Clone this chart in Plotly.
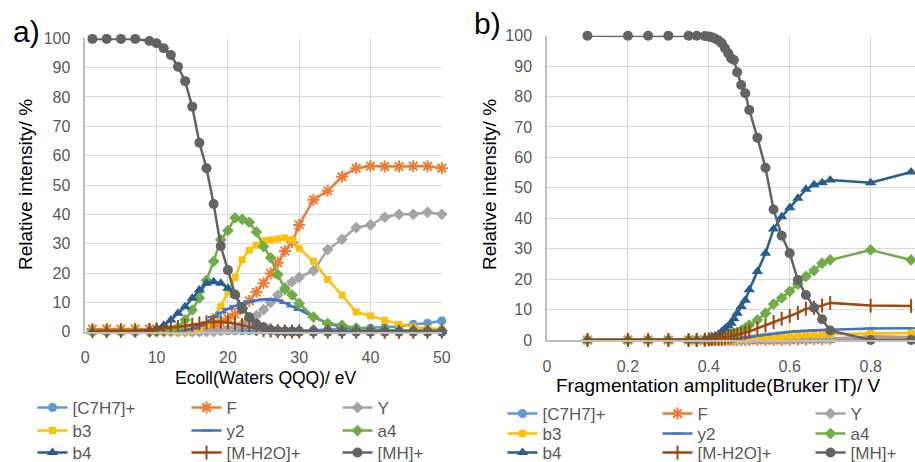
import plotly.graph_objects as go

W, H = 915, 462

names = ["[C7H7]+", "F", "Y", "b3", "y2", "a4", "b4", "[M-H2O]+", "[MH]+"]
colors = ["#5B9BD5", "#ED7D31", "#A5A5A5", "#FFC000", "#4472C4",
          "#70AD47", "#255E91", "#9E480E", "#636363"]
symbols = ["circle", "asterisk-open", "diamond", "square", "line-ew-open",
           "diamond", "triangle-up", "line-ns-open", "circle"]
msizes = [9, 10, 9, 7, 8, 9, 10, 10, 10]

# ---- panel a) : Ecoll (Waters QQQ) / eV ----
x_a = [1, 3, 5, 7, 9, 10, 11, 12, 13, 14, 15, 16, 17, 18, 19, 20, 21, 22, 23, 24,
       25, 26, 27, 28, 29, 30, 32, 34, 36, 38, 40, 42, 44, 46, 48, 50]
c7h7_a = [0, 0, 0, 0, 0, 0, 0, 0, 0, 0, 0, 0, 0.1, 0.2, 0.3, 0.3, 0.3, 0.3, 0.3, 0.3,
          0.3, 0.3, 0.3, 0.3, 0.3, 0.4, 0.6, 0.8, 1.0, 1.1, 1.2, 1.4, 1.8, 2.5, 2.9, 3.7]
f_a = [0.9, 0.9, 0.9, 0.9, 0.9, 0.8, 0.8, 0.8, 0.8, 0.8, 0.9, 1.0, 1.3, 2.0, 3.0, 4.5,
       6.0, 8.0, 10.5, 13.5, 16.5, 19.8, 23.5, 27.5, 30.5, 36.4, 45.0, 48.0, 52.8,
       55.7, 56.5, 56.3, 56.3, 56.4, 56.4, 55.7]
y_a = [0, 0, 0, 0, 0, 0, 0, 0, 0, 0, 0, 0, 0, 0, 0.3, 0.8, 1.5, 2.5, 4.0, 5.5, 7.5,
       10.0, 12.5, 15.0, 17.0, 18.5, 20.8, 28.0, 31.5, 35.5, 36.4, 39.0, 40.0, 40.0,
       40.7, 40.0]
b3_a = [0, 0, 0, 0, 0, 0, 0, 0, 0, 0, 0.3, 1.0, 2.5, 5.0, 8.5, 13.5, 18.5, 24.5, 27.8,
        29.5, 31.0, 31.3, 31.6, 32.0, 31.3, 28.4, 24.0, 17.8, 12.5, 6.7, 5.4, 3.9, 2.5,
        1.6, 1.1, 0.9]
y2_a = [0, 0, 0, 0, 0, 0, 0, 0, 0, 0.5, 1.0, 2.0, 3.2, 5.0, 6.5, 7.8, 8.8, 9.6, 10.2,
        10.7, 11.0, 11.0, 10.7, 9.8, 8.6, 7.4, 5.0, 2.8, 1.6, 1.0, 0.7, 0.5, 0.4, 0.3,
        0.3, 0.3]
a4_a = [0, 0, 0, 0, 0, 0.1, 0.3, 0.7, 1.5, 4.0, 7.4, 11.5, 17.5, 24.0, 31.3, 34.5,
        38.8, 38.3, 37.3, 34.0, 29.0, 25.2, 19.5, 14.4, 12.5, 9.6, 5.0, 2.8, 2.2, 1.2,
        0.6, 0.5, 0.4, 0.3, 0.3, 0.3]
b4_a = [0, 0, 0, 0, 0.5, 1.2, 2.2, 4.0, 6.3, 8.5, 11.4, 14.2, 16.5, 17.0, 16.5, 14.8,
        12.5, 8.5, 5.1, 3.0, 1.7, 1.0, 0.6, 0.4, 0.3, 0.2, 0.1, 0.1, 0.1, 0.1, 0.1,
        0.1, 0.1, 0.1, 0.1, 0.1]
mh2o_a = [0.2, 0.2, 0.3, 0.4, 0.6, 0.8, 1.0, 1.3, 1.6, 2.0, 2.4, 2.8, 3.2, 3.5, 3.4,
          3.2, 2.8, 2.2, 1.6, 1.0, 0.6, 0.4, 0.2, 0.1, 0.1, 0.1, 0, 0, 0, 0, 0, 0, 0,
          0, 0, 0]
mh_a = [99.8, 99.8, 99.8, 99.8, 99.1, 98.3, 96.6, 94.3, 90.3, 85.4, 76.7, 64.4, 55.7,
        43.5, 29.2, 21.0, 12.7, 7.8, 4.9, 2.6, 1.5, 0.6, 0.2, 0.1, 0, 0, 0, 0, 0, 0,
        0, 0, 0, 0, 0, 0]

# ---- panel b) : Fragmentation amplitude (Bruker IT) / V ----
x_b = [0.1, 0.2, 0.25, 0.3, 0.35, 0.37, 0.39, 0.40, 0.407, 0.415, 0.424, 0.432, 0.44,
       0.448, 0.455, 0.462, 0.47, 0.48, 0.49, 0.50, 0.52, 0.54, 0.56, 0.58, 0.60,
       0.62, 0.64, 0.66, 0.68, 0.70, 0.80, 0.90]
c7h7_b = [0] * 19 + [0.05, 0.1, 0.1, 0.15, 0.2, 0.2, 0.2, 0.25, 0.25, 0.3, 0.3, 0.4, 0.4]
f_b = [0] * 24 + [0.1, 0.2, 0.2, 0.3, 0.3, 0.4, 1.2, 1.0]
y_b = [0] * 19 + [0.1, 0.2, 0.3, 0.3, 0.4, 0.4, 0.5, 0.5, 0.5, 0.6, 0.6, 0.7, 0.7]
b3_b = [0] * 15 + [0.1, 0.15, 0.2, 0.25, 0.3, 0.5, 0.7, 0.9, 1.1, 1.3, 1.5, 1.7, 1.8,
                   1.9, 2.0, 2.2, 2.3]
y2_b = [0] * 13 + [0.1, 0.2, 0.3, 0.4, 0.6, 0.8, 1.0, 1.4, 1.8, 2.1, 2.4, 2.7, 2.9,
                   3.1, 3.2, 3.3, 3.4, 3.8, 3.9]
a4_b = [0] * 8 + [0.2, 0.4, 0.6, 0.9, 1.2, 1.5, 1.8, 2.1, 2.5, 3.2, 3.9, 4.9, 6.6, 8.8,
                  11.8, 13.8, 16.0, 18.3, 20.9, 22.8, 25.2, 26.3, 29.6, 26.3]
b4_b = [0] * 6 + [0.3, 0.5, 0.8, 1.2, 1.9, 2.8, 3.8, 4.6, 5.5, 7.0, 8.8, 11.0, 13.1,
                  16.5, 22.5, 28.5, 36.5, 40.5, 43.5, 46.6, 49.5, 51.0, 51.7, 52.6,
                  51.7, 55.2]
mh2o_b = [0] * 6 + [0.1, 0.2, 0.3, 0.4, 0.5, 0.6, 0.8, 1.0, 1.2, 1.4, 1.7, 2.0, 2.4,
                    2.8, 3.8, 4.8, 5.9, 7.0, 7.9, 8.9, 10.3, 10.6, 11.3, 12.2, 11.3, 11.2]
mh_b = [100, 100, 100, 100, 100, 100, 99.9, 99.7, 99.5, 99.1, 98.4, 97.5, 95.9, 94.2,
        92.6, 92.0, 88.0, 83.8, 81.1, 75.6, 66.5, 56.6, 42.9, 34.3, 28.5, 19.7, 14.8,
        10.6, 6.8, 3.1, 0, 0]

series_a = [c7h7_a, f_a, y_a, b3_a, y2_a, a4_a, b4_a, mh2o_a, mh_a]
series_b = [c7h7_b, f_b, y_b, b3_b, y2_b, a4_b, b4_b, mh2o_b, mh_b]

FONT = "Liberation Sans, Arial, Helvetica, sans-serif"
TICK = "#595959"

fig = go.Figure()


def legend_key(n):
    return "legend" if n == 1 else f"legend{n}"


def add_panel(xs, series, xa, ya, first_legend):
    for i, (nm, ys) in enumerate(zip(names, series)):
        sym = symbols[i]
        is_open = sym.endswith("-open")
        fig.add_trace(go.Scatter(
            x=xs, y=ys, name=nm, mode="lines+markers",
            xaxis=xa, yaxis=ya, cliponaxis=False,
            line=dict(color=colors[i], width=2.5),
            marker=dict(symbol=sym, size=msizes[i], color=colors[i],
                        line=dict(color=colors[i], width=2 if is_open else 0)),
            legend=legend_key(first_legend + i), showlegend=True,
        ))


add_panel(x_a, series_a, "x", "y", 1)
add_panel(x_b, series_b, "x2", "y2", 10)

axis_common = dict(showgrid=True, gridcolor="#D9D9D9", gridwidth=1.3,
                   showline=True, linecolor="#BFBFBF", linewidth=1.5,
                   zeroline=False, ticks="", fixedrange=True,
                   tickfont=dict(family=FONT, size=16, color=TICK))


def px_x(p):
    return p / W


def px_y(p):
    return 1 - p / H


layout = dict(
    width=W, height=H, autosize=False,
    margin=dict(l=0, r=0, t=0, b=0, autoexpand=False),
    paper_bgcolor="white", plot_bgcolor="white",
    font=dict(family=FONT, color=TICK),
    xaxis=dict(domain=[px_x(85.3), px_x(441.8)], range=[0, 50], dtick=10,
               anchor="y", ticklabelstandoff=10, **axis_common),
    yaxis=dict(domain=[px_y(331.7), px_y(38.3)], range=[0, 100], dtick=10,
               anchor="x", ticklabelstandoff=10, **axis_common),
    xaxis2=dict(domain=[px_x(547), 1.0], range=[0, 0.9096], dtick=0.2,
                anchor="y2", ticklabelstandoff=11, **axis_common),
    yaxis2=dict(domain=[px_y(340), px_y(35.7)], range=[0, 100], dtick=10,
                anchor="x2", ticklabelstandoff=10, **axis_common),
    showlegend=True,
)

# legend text starting positions (px) for the 3x3 grids
leg_cols = [[72.5, 226.5, 377.5], [542.5, 697.5, 850.5]]
leg_rows = [[408, 431, 453], [414, 434, 453]]
for p in range(2):
    for i in range(9):
        r, c = divmod(i, 3)
        n = 1 + 9 * p + i
        layout[legend_key(n)] = dict(
            x=px_x(leg_cols[p][c] - 40), y=px_y(leg_rows[p][r]),
            xanchor="left", yanchor="middle", orientation="v",
            bgcolor="rgba(0,0,0,0)", borderwidth=0,
            font=dict(family=FONT, size=17, color=TICK))

fig.update_layout(**layout)

ann = [
    dict(text="a)", x=px_x(26), y=px_y(31), size=30),
    dict(text="b)", x=px_x(487), y=px_y(23), size=30),
    dict(text="Relative intensity/ %", x=px_x(26), y=px_y(185), size=19, angle=-90),
    dict(text="Relative intensity/ %", x=px_x(490), y=px_y(185), size=19, angle=-90),
    dict(text="Ecoll(Waters QQQ)/ eV", x=px_x(266), y=px_y(378), size=17.5),
    dict(text="Fragmentation amplitude(Bruker IT)/ V", x=px_x(718), y=px_y(385), size=19),
]
for a in ann:
    fig.add_annotation(text=a["text"], x=a["x"], y=a["y"], xref="paper", yref="paper",
                       xanchor="center", yanchor="middle", showarrow=False,
                       textangle=a.get("angle", 0),
                       font=dict(family=FONT, size=a["size"], color="black"))

fig.write_html("out.html")
